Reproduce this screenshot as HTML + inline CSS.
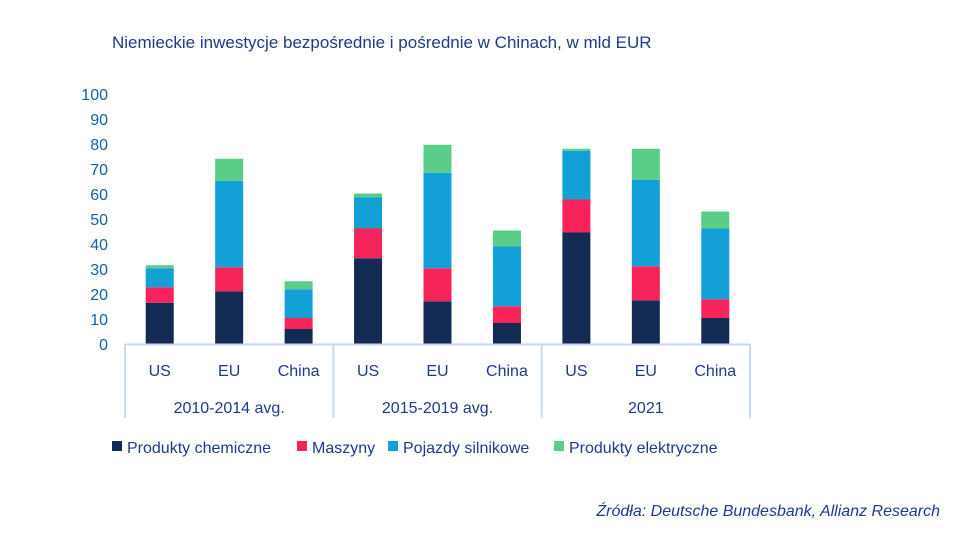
<!DOCTYPE html>
<html><head><meta charset="utf-8"><style>
body{margin:0;background:#fff;width:966px;height:547px;overflow:hidden;font-family:"Liberation Sans",sans-serif}
</style></head><body>
<svg id="chart" width="966" height="547" xmlns="http://www.w3.org/2000/svg" font-family="Liberation Sans, sans-serif">
<text x="112" y="48" font-size="17" fill="#1f3a8a">Niemieckie inwestycje bezpośrednie i pośrednie w Chinach, w mld EUR</text>
<g id="yaxis"></g>
<g id="bars"></g>
<g id="xaxis"></g>
<g id="legend"></g>
<text x="940" y="516" font-size="16" font-style="italic" fill="#1f3a8a" text-anchor="end">Źródła: Deutsche Bundesbank, Allianz Research</text>
</svg>
<script>
const groups=["2010-2014 avg.","2015-2019 avg.","2021"];
const categories=["US","EU","China"];
const seriesNames=["Produkty chemiczne","Maszyny","Pojazdy silnikowe","Produkty elektryczne"];
const chem=[16.5,21.1,6,34.3,17.1,8.4,44.6,17.5,10.4];
const masz=[6.2,9.6,4.4,11.9,13.2,6.7,13.2,13.6,7.5];
const poj=[7.6,34.6,11.5,12.4,38.2,23.9,19.5,34.6,28.3];
const elek=[1.2,8.8,3.2,1.6,11.2,6.4,0.8,12.4,6.8];
const yTicks=[0,10,20,30,40,50,60,70,80,90,100];
const colors=["#132a52","#f7245c","#12a0d6","#5ccd89"];
const NS="http://www.w3.org/2000/svg";
const x0=125,x1=750,y0=344,yTop=94;
const y=v=>y0-(v/100)*(y0-yTop);
const slot=(x1-x0)/9;
const xc=i=>x0+slot*(i+0.5);
function mk(t,a,p){const e=document.createElementNS(NS,t);for(const k in a)e.setAttribute(k,a[k]);p.appendChild(e);return e;}
const ya=document.getElementById('yaxis');
yTicks.forEach(t=>{const e=mk('text',{x:108,y:y(t)+6,'font-size':16,fill:'#1560a0','text-anchor':'end'},ya);e.textContent=t;

});
const bg=document.getElementById('bars');
const series=[chem,masz,poj,elek];
for(let i=0;i<9;i++){let acc=0;series.forEach((s,k)=>{const r=mk('rect',{x:xc(i)-14,y:y(acc+s[i]),width:28,height:y(acc)-y(acc+s[i]),fill:colors[k]},bg);

acc+=s[i];});}
const xa=document.getElementById('xaxis');
mk('line',{x1:x0,y1:y0+0.5,x2:x1,y2:y0+0.5,stroke:'#c6d9f1','stroke-width':2},xa);
for(let g=0;g<=3;g++){const xx=x0+g*slot*3;mk('line',{x1:xx,y1:y0,x2:xx,y2:418,stroke:'#c6d9f1','stroke-width':2},xa);}
for(let i=0;i<9;i++){const e=mk('text',{x:xc(i),y:376,'font-size':16,fill:'#1f3a8a','text-anchor':'middle'},xa);e.textContent=categories[i%3];

}
groups.forEach((g,j)=>{const e=mk('text',{x:x0+slot*3*(j+0.5),y:413,'font-size':16,fill:'#1f3a8a','text-anchor':'middle'},xa);e.textContent=g;

});
const lg=document.getElementById('legend');
const lx=[112,297,388,554];
seriesNames.forEach((n,k)=>{const g=mk('g',{},lg);


mk('rect',{x:lx[k],y:441,width:10,height:10,fill:colors[k]},g);
const t=mk('text',{x:lx[k]+15,y:453,'font-size':16,fill:'#1f3a8a'},g);t.textContent=n;});
</script>
</body></html>
